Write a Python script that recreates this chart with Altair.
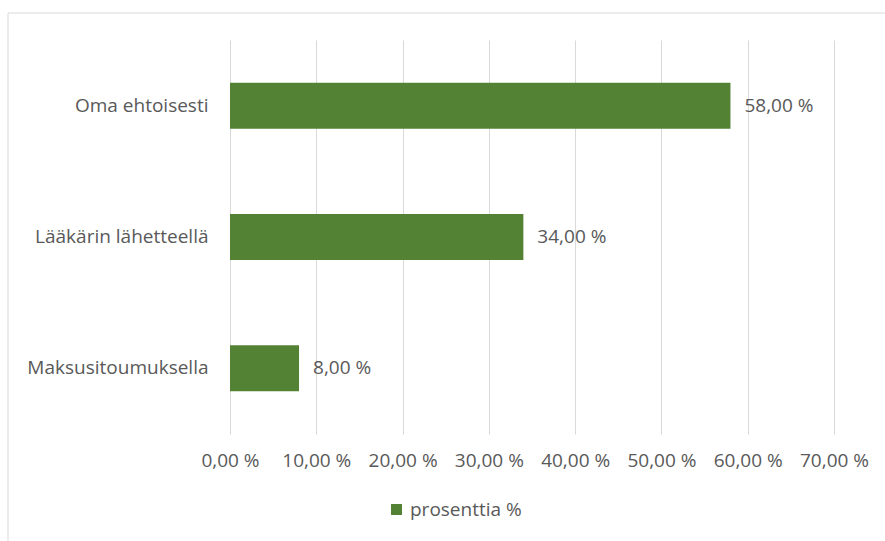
import altair as alt
import pandas as pd

categories = ["Oma ehtoisesti", "Lääkärin lähetteellä", "Maksusitoumuksella"]
values = [58.0, 34.0, 8.0]
series_name = "prosenttia %"
x_ticks = [0, 10, 20, 30, 40, 50, 60, 70]

df = pd.DataFrame({"kategoria": categories, "arvo": values, "sarja": [series_name] * 3})
df["label"] = [f"{v:.2f}".replace(".", ",") + " %" for v in values]

FONT = "Open Sans"
FS = 19
GRAY = "#595959"
GREEN = "#548235"

base = alt.Chart(df)

border = alt.Chart(pd.DataFrame({"a": [0]})).mark_rect(
    fill=None, stroke="#d9d9d9", strokeWidth=1
).encode(
    x=alt.value(-222), x2=alt.value(660), y=alt.value(-27), y2=alt.value(510)
)

bars = base.mark_bar(color=GREEN).encode(
    y=alt.Y("kategoria:N", sort=categories, title=None,
            scale=alt.Scale(paddingInner=0.65, paddingOuter=0.325),
            axis=alt.Axis(domain=False, ticks=False, labelPadding=22,
                          labelFont=FONT, labelFontSize=FS, labelColor=GRAY,
                          labelLimit=300)),
    x=alt.X("arvo:Q", title=None, scale=alt.Scale(domain=[0, 70], nice=False),
            axis=alt.Axis(values=x_ticks, domain=False, ticks=False, labelPadding=17,
                          labelFlush=False, labelOverlap=False, labelBound=False,
                          grid=True, gridColor="#d9d9d9", gridWidth=1,
                          labelFont=FONT, labelFontSize=FS, labelColor=GRAY,
                          labelExpr="replace(format(datum.value, '.2f'), '.', ',') + ' %'")),
    color=alt.Color("sarja:N", title=None,
                    scale=alt.Scale(domain=[series_name], range=[GREEN]),
                    legend=alt.Legend(orient="none", legendX=157, legendY=460,
                                      symbolType="square", symbolSize=120,
                                      labelFont=FONT, labelFontSize=FS, labelColor=GRAY,
                                      symbolStrokeWidth=0)),
)

labels = base.mark_text(align="left", dx=14, font=FONT, fontSize=FS, color=GRAY).encode(
    y=alt.Y("kategoria:N", sort=categories),
    x=alt.X("arvo:Q"),
    text="label:N",
)

chart = alt.layer(border, bars, labels).properties(
    width=604, height=394,
    autosize=alt.AutoSizeParams(type="none"),
    padding={"left": 230, "top": 40, "right": 51, "bottom": 107},
    background="white",
).configure_view(stroke=None)

chart.save("out.html", embed_options={"renderer": "svg", "actions": False})
